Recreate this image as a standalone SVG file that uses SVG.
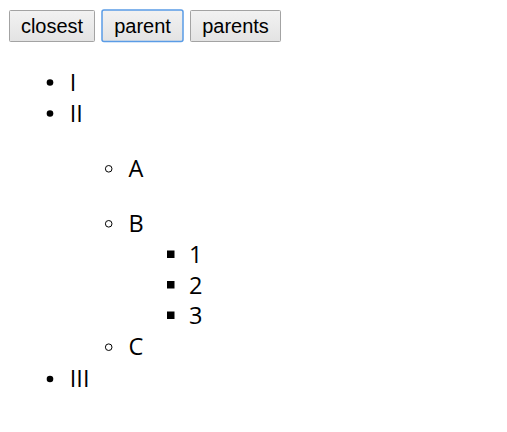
<svg xmlns="http://www.w3.org/2000/svg" width="507" height="432" viewBox="0 0 507 432">
<defs>
<linearGradient id="btn" x1="0" y1="0" x2="0" y2="1">
<stop offset="0" stop-color="#f2f2f2"/>
<stop offset="1" stop-color="#e3e3e3"/>
</linearGradient>
</defs>
<style>
.btn rect{fill:url(#btn);stroke:#a3a3a3;stroke-width:1}
.btn.focus rect{stroke:#5a9ce6;stroke-width:1.5}
.btn text{font-family:"Liberation Sans",Arial,sans-serif;font-size:20px;fill:#000;text-anchor:middle}
.item text{font-family:"Open Sans","Noto Sans",sans-serif;font-size:23.5px;fill:#000}
.disc{fill:#000}
.circle{fill:none;stroke:#000;stroke-width:1}
.square{fill:#000}
</style>
<rect width="507" height="432" fill="#fff"/>
<g id="btn-closest" class="btn"><rect x="9.5" y="10.5" width="85" height="31" rx="1"/><text x="52" y="32.7">closest</text></g>
<g id="btn-parent" class="btn focus"><rect x="102" y="10" width="81" height="31.5" rx="2"/><text x="142.5" y="32.7">parent</text></g>
<g id="btn-parents" class="btn"><rect x="190.5" y="10.5" width="90" height="31" rx="1"/><text x="235.5" y="32.7">parents</text></g>
<g id="item-I" class="item"><circle class="disc" cx="50" cy="82.5" r="3.3"/><text x="69.8" y="90.7">I</text></g>
<g id="item-II" class="item"><circle class="disc" cx="50" cy="113.5" r="3.3"/><text x="69.8" y="121.7">II</text></g>
<g id="item-A" class="item"><circle class="circle" cx="108.7" cy="168.8" r="3.3"/><text x="128.5" y="176.7">A</text></g>
<g id="item-B" class="item"><circle class="circle" cx="108.7" cy="223.8" r="3.3"/><text x="128.5" y="231.7">B</text></g>
<g id="item-1" class="item"><rect class="square" x="167" y="250.5" width="7.5" height="7.5"/><text x="189" y="263.3">1</text></g>
<g id="item-2" class="item"><rect class="square" x="167" y="281" width="7.5" height="7.5"/><text x="189" y="293.5">2</text></g>
<g id="item-3" class="item"><rect class="square" x="167" y="311.5" width="7.5" height="7.5"/><text x="189" y="324.3">3</text></g>
<g id="item-C" class="item"><circle class="circle" cx="108.7" cy="347.2" r="3.3"/><text x="128.5" y="355">C</text></g>
<g id="item-III" class="item"><circle class="disc" cx="50" cy="379" r="3.3"/><text x="69.8" y="386.7">III</text></g>
<g id="connectors"/>
</svg>
